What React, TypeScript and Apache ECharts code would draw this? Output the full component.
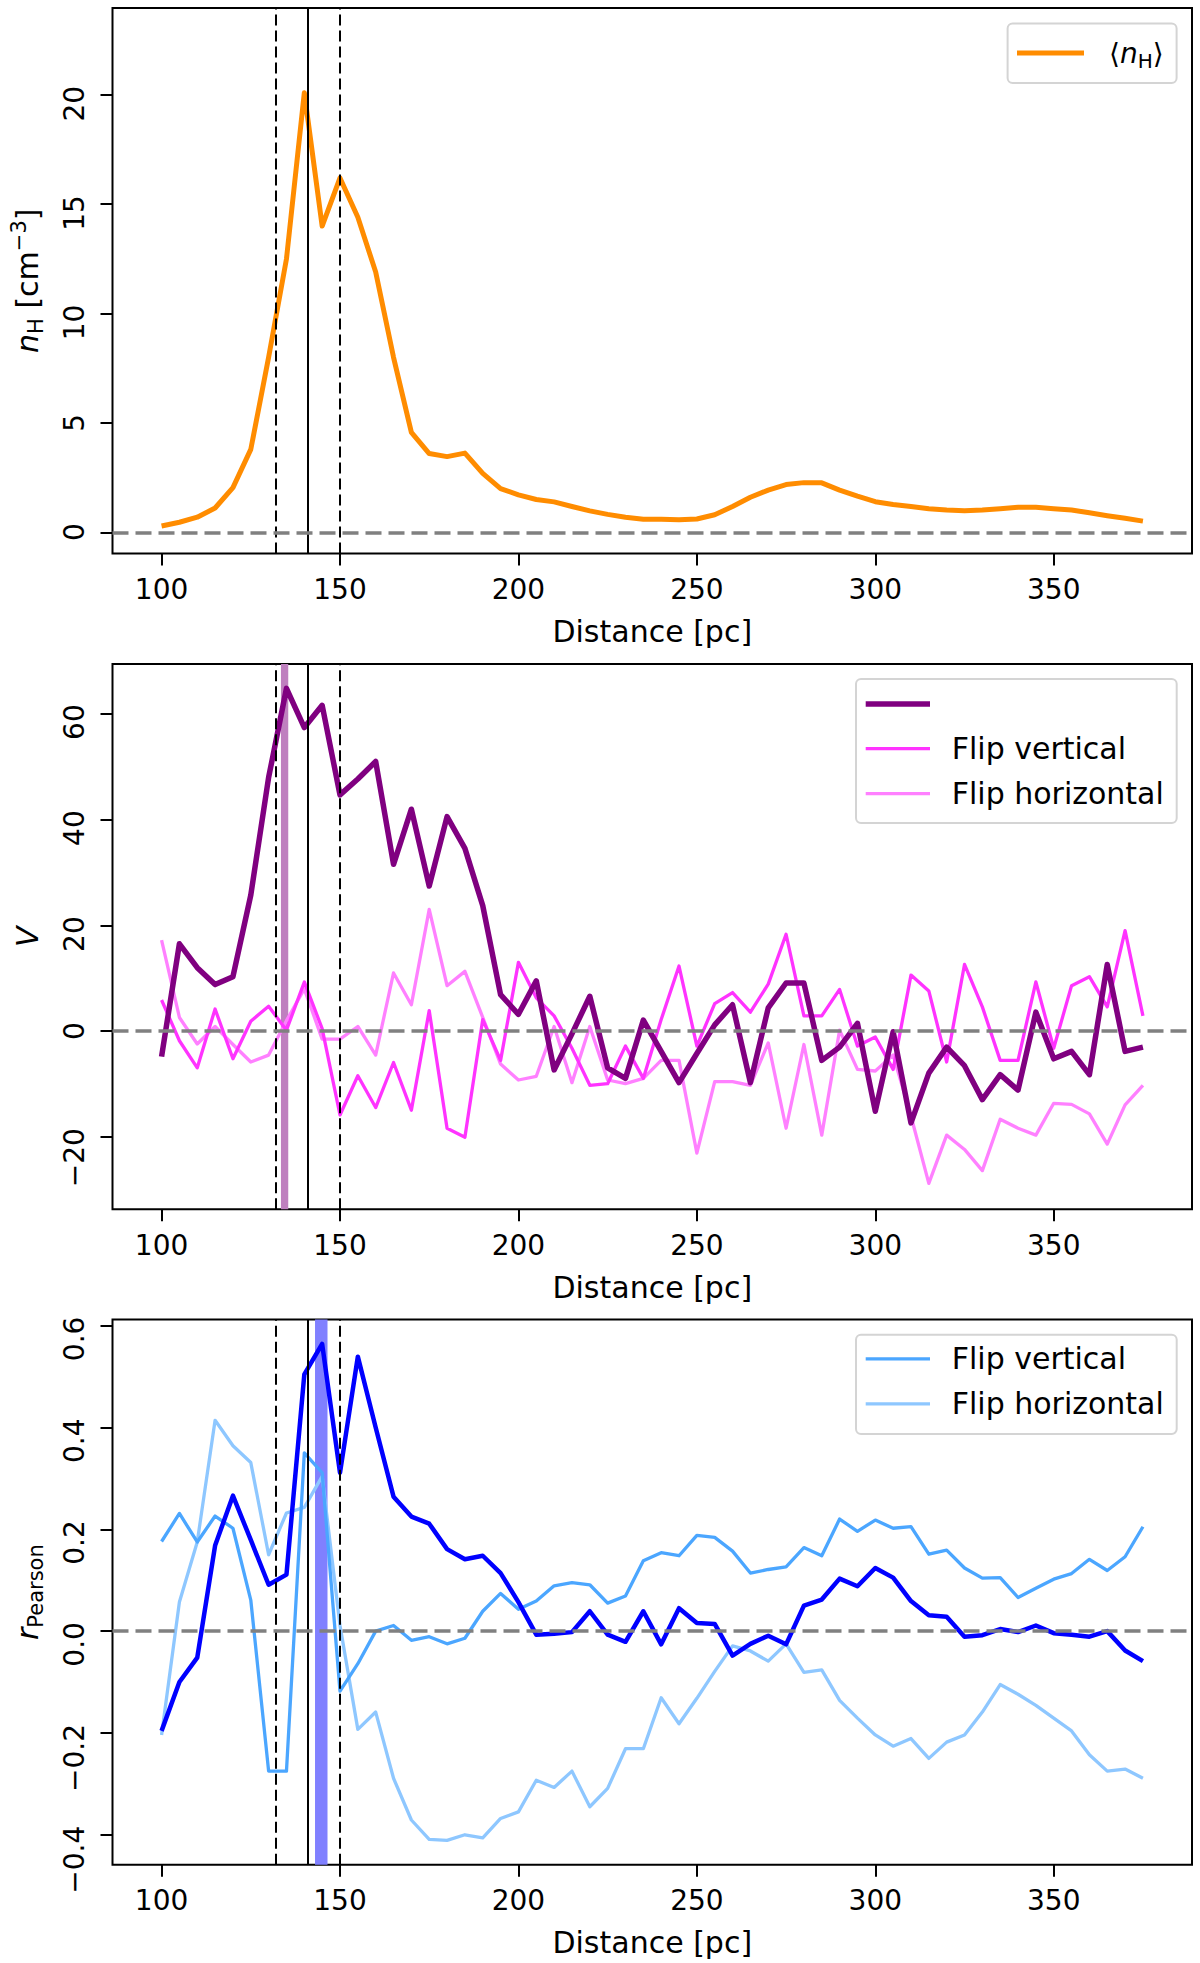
import { useEffect, useRef } from "react";
import * as echarts from "echarts";

// distance grid [pc]
const distance = [
  100, 105, 110, 115, 120, 125, 130, 135, 140, 145, 150, 155, 160, 165, 170, 175, 180, 185, 190, 195,
  200, 205, 210, 215, 220, 225, 230, 235, 240, 245, 250, 255, 260, 265, 270, 275, 280, 285, 290, 295,
  300, 305, 310, 315, 320, 325, 330, 335, 340, 345, 350, 355, 360, 365, 370, 375,
];

// <n_H> [cm^-3]
const nH = [
  0.29, 0.46, 0.69, 1.11, 2.04, 3.79, 8.0, 12.5, 20.1, 14.0, 16.2, 14.4, 11.9, 8.0, 4.57, 3.6, 3.46, 3.62, 2.69, 2.0,
  1.71, 1.5, 1.39, 1.18, 0.98, 0.82, 0.69, 0.6, 0.6, 0.57, 0.61, 0.8, 1.18, 1.6, 1.93, 2.18, 2.27, 2.26, 1.93, 1.65,
  1.4, 1.27, 1.18, 1.08, 1.02, 0.99, 1.02, 1.08, 1.14, 1.14, 1.08, 1.02, 0.89, 0.76, 0.64, 0.51,
];

// V
const vMain = [
  -4.8, 16.5, 12.0, 8.8, 10.3, 25.7, 47.9, 64.7, 57.3, 61.5, 44.6, 47.6, 50.9, 31.5, 41.9, 27.4, 40.5, 34.5, 23.7, 6.9,
  3.2, 9.5, -7.3, -0.5, 6.6, -6.9, -8.9, 2.1, -3.8, -9.7, -4.2, 1.2, 5.0, -9.7, 4.4, 9.1, 9.1, -5.5, -3.0, 1.5,
  -15.1, -0.1, -17.3, -7.9, -3.0, -6.5, -12.9, -8.2, -11.1, 3.6, -5.2, -3.8, -8.2, 12.6, -3.8, -3.0,
];
const vFlipVertical = [
  5.9, -1.8, -6.9, 4.2, -5.2, 1.9, 4.7, 0.2, 9.3, 0.5, -15.8, -8.4, -14.4, -5.9, -14.9, 3.9, -18.3, -20.0, 2.2, -5.5,
  13.0, 6.3, 2.9, -3.2, -10.2, -9.9, -2.8, -8.9, 2.2, 12.3, -2.8, 5.2, 7.3, 3.6, 8.9, 18.3, 2.9, 2.9, 7.9, -2.8,
  -1.1, -7.2, 10.6, 7.6, -5.8, 12.6, 4.6, -5.5, -5.5, 9.3, -3.2, 8.6, 10.3, 4.6, 19.0, 2.9,
];
const vFlipHorizontal = [
  17.2, 2.6, -2.4, 0.9, -2.5, -5.8, -4.5, 2.0, 8.0, -1.5, -1.5, 0.9, -4.5, 11.0, 5.0, 23.0, 8.6, 11.3, 2.6, -6.2,
  -9.2, -8.5, 0.9, -9.7, 0.9, -9.2, -9.9, -8.9, -5.5, -5.5, -23.0, -9.5, -9.5, -10.2, -2.2, -18.3, -2.5, -19.6, 0.2, -7.2,
  -7.5, -4.5, -16.0, -28.7, -19.6, -22.3, -26.3, -16.6, -18.3, -19.6, -13.6, -13.8, -15.6, -21.3, -13.9, -10.2,
];

// r_Pearson
const rMain = [
  -0.196, -0.1, -0.052, 0.168, 0.266, 0.179, 0.091, 0.111, 0.504, 0.564, 0.311, 0.539, 0.4, 0.264, 0.225, 0.211, 0.161, 0.141, 0.148, 0.114,
  0.057, -0.007, -0.005, -0.002, 0.039, -0.007, -0.021, 0.039, -0.026, 0.045, 0.016, 0.014, -0.048, -0.025, -0.009, -0.026, 0.05, 0.062, 0.103, 0.088,
  0.124, 0.105, 0.059, 0.031, 0.028, -0.011, -0.008, 0.004, -0.002, 0.011, -0.004, -0.007, -0.011, 0.0, -0.038, -0.059,
];
const rFlipVertical = [
  0.176, 0.231, 0.175, 0.226, 0.202, 0.061, -0.275, -0.275, 0.35, 0.311, -0.118, -0.064, 0.0, 0.011, -0.018, -0.011, -0.025, -0.014, 0.039, 0.074,
  0.043, 0.059, 0.089, 0.095, 0.091, 0.055, 0.069, 0.138, 0.154, 0.148, 0.188, 0.184, 0.157, 0.114, 0.121, 0.126, 0.164, 0.148, 0.22, 0.196,
  0.218, 0.202, 0.205, 0.151, 0.159, 0.124, 0.104, 0.105, 0.066, 0.084, 0.102, 0.113, 0.141, 0.119, 0.146, 0.205,
];
const rFlipHorizontal = [
  -0.204, 0.057, 0.175, 0.414, 0.364, 0.331, 0.15, 0.232, 0.243, 0.304, 0.011, -0.193, -0.159, -0.289, -0.371, -0.409, -0.411, -0.4, -0.406, -0.368,
  -0.355, -0.293, -0.307, -0.275, -0.345, -0.309, -0.231, -0.231, -0.131, -0.182, -0.132, -0.079, -0.029, -0.039, -0.059, -0.025, -0.081, -0.076, -0.136, -0.171,
  -0.204, -0.226, -0.211, -0.25, -0.218, -0.204, -0.159, -0.105, -0.124, -0.146, -0.171, -0.196, -0.243, -0.275, -0.271, -0.289,
];

const xTicks = [100, 150, 200, 250, 300, 350];
const nHTicks = [0, 5, 10, 15, 20];
const vTicks = [-20, 0, 20, 40, 60];
const rTicks = [-0.4, -0.2, 0, 0.2, 0.4, 0.6];

// cloud edges (dashed) and centre (solid)
const cloudEdges = [132, 150];
const cloudCentre = 141;
const vBand = [133.45, 135.5];
const rBand = [143.0, 146.5];

const FONT = "DejaVu Sans";
const minus = (s: string) => s.replace("-", "\u2212");

const pair = (ys: number[]) => distance.map((x, i) => [x, ys[i]]);

function xAxisFor(gridIndex: number) {
  return {
    type: "value",
    gridIndex,
    min: 86.25,
    max: 388.75,
    name: "Distance [pc]",
    nameLocation: "middle",
    nameGap: 63,
    nameTextStyle: { fontFamily: FONT, fontSize: 30, color: "#000" },
    axisLine: { show: false, onZero: false },
    splitLine: { show: false },
    axisTick: {
      show: true,
      inside: false,
      length: 12,
      customValues: xTicks,
      lineStyle: { color: "#000", width: 2 },
    },
    axisLabel: {
      customValues: xTicks,
      fontFamily: FONT,
      fontSize: 28,
      color: "#000",
      margin: 22,
    },
  };
}

const nameRich = {
  i: { fontFamily: FONT, fontStyle: "italic", fontSize: 30, lineHeight: 38, color: "#000" },
  sub: { fontFamily: FONT, fontSize: 21, lineHeight: 19, verticalAlign: "bottom", color: "#000" },
  sup: { fontFamily: FONT, fontSize: 21, lineHeight: 19, verticalAlign: "top", color: "#000" },
};

const legendRich = {
  i: { fontFamily: FONT, fontStyle: "italic", fontSize: 28, lineHeight: 36, color: "#000" },
  sub: { fontFamily: FONT, fontSize: 20, lineHeight: 18, verticalAlign: "bottom", color: "#000" },
};

function yAxisFor(
  gridIndex: number,
  min: number,
  max: number,
  ticks: number[],
  name: string,
  fmt: (v: number) => string
) {
  return {
    type: "value",
    gridIndex,
    min,
    max,
    name,
    nameLocation: "middle",
    nameRotate: 90,
    nameGap: 66,
    nameTextStyle: {
      fontFamily: FONT,
      fontSize: 30,
      lineHeight: 38,
      color: "#000",
      rich: nameRich,
    },
    axisLine: { show: false, onZero: false },
    splitLine: { show: false },
    axisTick: {
      show: true,
      inside: false,
      length: 12,
      customValues: ticks,
      lineStyle: { color: "#000", width: 2 },
    },
    axisLabel: {
      customValues: ticks,
      rotate: 90,
      align: "right",
      verticalAlign: "bottom",
      padding: [0, -9, 0, 0],
      margin: 24,
      fontFamily: FONT,
      fontSize: 28,
      color: "#000",
      formatter: fmt,
    },
  };
}

function guides(gridIndex: number, band: number[] | null) {
  const dashed = { type: [11, 5], color: "#000", width: 2 };
  return {
    type: "line",
    name: "guides" + gridIndex,
    xAxisIndex: gridIndex,
    yAxisIndex: gridIndex,
    data: [],
    z: 1,
    silent: true,
    markLine: {
      symbol: ["none", "none"],
      silent: true,
      label: { show: false },
      data: [
        { xAxis: cloudEdges[0], lineStyle: dashed },
        { xAxis: cloudCentre, lineStyle: { type: "solid", color: "#000", width: 2 } },
        { xAxis: cloudEdges[1], lineStyle: dashed },
        { yAxis: 0, lineStyle: { type: [16, 7], color: "#808080", width: 3.5 } },
      ],
    },
    markArea: band
      ? {
          silent: true,
          itemStyle: { color: gridIndex === 1 ? "#bf80bf" : "#8080ff" },
          data: [[{ xAxis: band[0] }, { xAxis: band[1] }]],
        }
      : undefined,
  };
}

function line(gridIndex: number, name: string, ys: number[], color: string, width: number, z: number) {
  return {
    type: "line",
    name,
    xAxisIndex: gridIndex,
    yAxisIndex: gridIndex,
    data: pair(ys),
    symbol: "none",
    silent: true,
    z,
    lineStyle: { color, width, join: "round" },
    itemStyle: { color },
  };
}

const legendText = {
  fontFamily: FONT,
  fontSize: 30,
  fill: "#000",
  align: "left",
  verticalAlign: "middle",
  textAlign: "left",
  textVerticalAlign: "middle",
};

function legendBox(x: number, y: number, w: number, h: number) {
  return {
    type: "rect",
    shape: { x, y, width: w, height: h, r: 5 },
    style: { fill: "rgba(255,255,255,0.8)", stroke: "#d4d4d4", lineWidth: 2 },
    z: 20,
  };
}
function legendLine(x1: number, x2: number, y: number, color: string, width: number) {
  return {
    type: "line",
    shape: { x1, y1: y, x2, y2: y },
    style: { stroke: color, lineWidth: width },
    z: 21,
  };
}
function legendLabel(x: number, y: number, text: string, rich?: object, fontSize = 30) {
  return {
    type: "text",
    x,
    y,
    style: { ...legendText, fontSize, text, rich },
    z: 21,
  };
}

export default function App() {
  const chartRef = useRef<HTMLDivElement>(null);

  useEffect(() => {
    if (!chartRef.current) return;
    const chart = echarts.init(chartRef.current, null, { renderer: "svg" });

    chart.setOption({
      animation: false,
      backgroundColor: "#fff",
      grid: [
        { left: 112.5, top: 8, width: 1079.5, height: 545.5, show: true, borderColor: "#000", borderWidth: 2, backgroundColor: "transparent" },
        { left: 112.5, top: 664, width: 1079.5, height: 545.3, show: true, borderColor: "#000", borderWidth: 2, backgroundColor: "transparent" },
        { left: 112.5, top: 1319.5, width: 1079.5, height: 545.3, show: true, borderColor: "#000", borderWidth: 2, backgroundColor: "transparent" },
      ],
      xAxis: [xAxisFor(0), xAxisFor(1), xAxisFor(2)],
      yAxis: [
        yAxisFor(0, -0.97, 23.97, nHTicks, "{i|n}{sub|H} [cm{sup|\u22123}]", (v) => String(v)),
        yAxisFor(1, -33.6, 69.3, vTicks, "{i|V}", (v) => minus(String(v))),
        yAxisFor(2, -0.459, 0.612, rTicks, "{i|r}{sub|Pearson}", (v) => minus(v.toFixed(1))),
      ],
      series: [
        guides(0, null),
        line(0, "nH", nH, "#ff8c00", 5, 3),
        guides(1, vBand),
        line(1, "vFlipHorizontal", vFlipHorizontal, "#ff80ff", 3.3, 2),
        line(1, "vFlipVertical", vFlipVertical, "#ff33ff", 3.3, 2),
        line(1, "vMain", vMain, "#800080", 5.5, 3),
        guides(2, rBand),
        line(2, "rFlipHorizontal", rFlipHorizontal, "#8ec7ff", 3.3, 2),
        line(2, "rFlipVertical", rFlipVertical, "#4ba6ff", 3.3, 2),
        line(2, "rMain", rMain, "#0000ff", 4.5, 3),
      ],
      graphic: {
        elements: [
          legendBox(1007.6, 23.6, 169, 59.4),
          legendLine(1017, 1084, 53, "#ff8c00", 5),
          legendLabel(1109, 53, "\u27e8{i|n}{sub|H}\u27e9", legendRich, 28),

          legendBox(856, 679, 320.7, 144),
          legendLine(865.7, 930, 704, "#800080", 5.5),
          legendLine(865.7, 930, 748.6, "#ff33ff", 3.3),
          legendLabel(951.7, 748.6, "Flip vertical"),
          legendLine(865.7, 930, 793.6, "#ff80ff", 3.3),
          legendLabel(951.7, 793.6, "Flip horizontal"),

          legendBox(856, 1334.8, 320.7, 99.2),
          legendLine(865.7, 930, 1358.8, "#4ba6ff", 3.3),
          legendLabel(951.7, 1358.8, "Flip vertical"),
          legendLine(865.7, 930, 1403.9, "#8ec7ff", 3.3),
          legendLabel(951.7, 1403.9, "Flip horizontal"),
        ],
      },
    });

    return () => {
      chart.dispose();
    };
  }, []);

  return (
    <div
      ref={chartRef}
      style={{ position: "absolute", left: 0, top: 0, width: 1200, height: 1963 }}
    />
  );
}
